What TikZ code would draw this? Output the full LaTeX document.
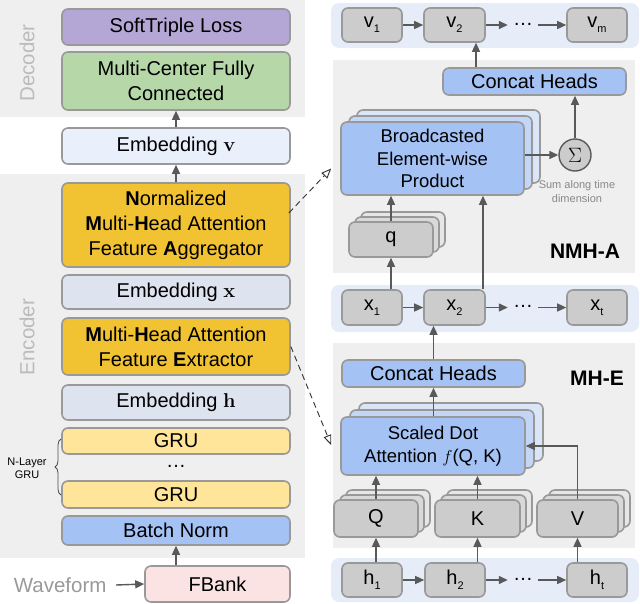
\documentclass[tikz,border=0pt]{standalone}
\usepackage[no-math]{fontspec}
\setmainfont{Liberation Sans}
\newfontfamily\lmrfam{Latin Modern Roman}
\usetikzlibrary{arrows.meta,calc,decorations.pathreplacing}
\definecolor{bggray}{HTML}{EFEFEF}
\definecolor{panelblue}{HTML}{E6ECF8}
\definecolor{bordergray}{HTML}{999999}
\definecolor{arrowgray}{HTML}{595959}
\definecolor{boxgray}{HTML}{CCCCCC}
\definecolor{boxgrayb}{HTML}{D9D9D9}
\definecolor{boxgrayc}{HTML}{E6E6E6}
\definecolor{blueA}{HTML}{A4C2F4}
\definecolor{blueB}{HTML}{C4D6F6}
\definecolor{blueC}{HTML}{DAE5F8}
\definecolor{orangeA}{HTML}{F1C232}
\definecolor{yellowA}{HTML}{FFE599}
\definecolor{purpleA}{HTML}{B4A7D6}
\definecolor{greenA}{HTML}{B6D7A8}
\definecolor{embv}{HTML}{EAF0FB}
\definecolor{embxh}{HTML}{DDE3EF}
\definecolor{pinkA}{HTML}{FBE3E3}
\definecolor{labelgray}{HTML}{BBBBBB}
\definecolor{wavegray}{HTML}{999999}
\definecolor{sumgray}{HTML}{888888}
\newcommand{\mysub}[1]{\raisebox{-5pt}{\fontsize{11}{11}\selectfont #1}}
\newcommand{\bvec}[1]{{\lmrfam\bfseries #1}}
\begin{document}
\begin{tikzpicture}[x=1pt,y=-1pt,
  box/.style={draw=bordergray, line width=1.6pt, rounded corners=6pt, align=center, inner sep=0pt, font=\fontsize{20}{25}\selectfont},
  gbox/.style={box, fill=boxgray},
  sbox/.style={box, font=\fontsize{18.5}{22.5}\selectfont},
  dotsnode/.style={font=\fontsize{20}{20}\selectfont, inner sep=0pt},
  arr/.style={draw=arrowgray, line width=1.4pt, -{Triangle[length=9pt,width=8pt]}},
  dasharr/.style={draw=black!80, line width=0.9pt, dash pattern=on 6pt off 4pt, -{Triangle[open,length=10pt,width=8pt]}},
  sidelabel/.style={rotate=90, text=labelgray, font=\fontsize{20.5}{20.5}\selectfont}
]
\useasboundingbox (0,0) rectangle (640,603);

% ---------- left backgrounds ----------
\fill[bggray] (0,0) rectangle (305,117);
\fill[bggray] (0,174) rectangle (305,558);
\node[sidelabel] (dec) at (27,63) {Decoder};
\node[sidelabel] (enc) at (27,337) {Encoder};

% ---------- left boxes ----------
\node[box, fill=purpleA, minimum width=228pt, minimum height=36pt] (soft) at (176,27) {SoftTriple Loss};
\node[box, fill=greenA, minimum width=228pt, minimum height=58pt] (mcfc) at (176,81) {Multi-Center Fully\\Connected};
\node[box, fill=embv, minimum width=228pt, minimum height=36pt] (embv) at (176,146) {Embedding \bvec{v}};
\node[box, fill=orangeA, minimum width=228pt, minimum height=84pt] (nmha) at (176,225) {\textbf{N}ormalized\\\textbf{M}ulti-\textbf{H}ead Attention\\Feature \textbf{A}ggregator};
\node[box, fill=embxh, minimum width=228pt, minimum height=34pt] (embx) at (176,292) {Embedding \bvec{x}};
\node[box, fill=orangeA, minimum width=228pt, minimum height=57pt] (mhafe) at (176,346.5) {\textbf{M}ulti-\textbf{H}ead Attention\\Feature \textbf{E}xtractor};
\node[box, fill=embxh, minimum width=228pt, minimum height=35pt] (embh) at (176,402.5) {Embedding \bvec{h}};
\node[box, fill=yellowA, minimum width=228pt, minimum height=26pt] (gru1) at (176,441) {GRU};
\node[dotsnode] (grudots) at (176,466) {\ldots};
\node[box, fill=yellowA, minimum width=228pt, minimum height=27pt] (gru2) at (176,494.5) {GRU};
\node[box, fill=blueA, minimum width=228pt, minimum height=29pt] (bn) at (176,530.5) {Batch Norm};
\node[box, fill=pinkA, minimum width=145pt, minimum height=36pt] (fbank) at (217.5,584) {FBank};
\node[text=wavegray, font=\fontsize{20.5}{20.5}\selectfont, anchor=east] (wave) at (110,585) {Waveform};

\draw[decorate, decoration={brace, amplitude=6pt}, draw=black!70, line width=0.8pt] (61,495) -- (61,439);
\node[font=\fontsize{11}{13}\selectfont, align=center] (nlayer) at (27,468) {N-Layer\\GRU};

\draw[arr] (nmha.north) -- (embv.south);
\draw[arr] (embv.north) -- (mcfc.south);
\draw[arr] (bn.south |- fbank.north) -- (bn.south);
\draw[arr] (wave.east) ++(6,0) -- (fbank.west);

% ---------- right backgrounds ----------
\fill[panelblue, rounded corners=8pt] (331,3) rectangle (639,48);
\fill[bggray] (333,60) rectangle (635,273);
\fill[panelblue, rounded corners=8pt] (331,285) rectangle (639,332);
\fill[bggray] (333,343) rectangle (635,548);
\fill[panelblue, rounded corners=8pt] (331,558) rectangle (639,602);

% ---------- v row ----------
\node[gbox, minimum width=60pt, minimum height=34pt] (v1) at (372,25) {v\mysub{1}};
\node[gbox, minimum width=61pt, minimum height=34pt] (v2) at (454.5,25) {v\mysub{2}};
\node[dotsnode] (vdots) at (523,24) {\ldots};
\node[gbox, minimum width=60pt, minimum height=34pt] (vm) at (597,25) {v\mysub{m}};
\draw[arr] (v1.east) -- (v2.west);
\draw[arr] (v2.east) -- ($(vdots.west |- v2.east)+(-5,0)$);
\draw[arr] ($(vdots.east |- vm.west)+(5,0)$) -- (vm.west);

% ---------- NMH-A ----------
\node[box, fill=blueA, minimum width=183pt, minimum height=27pt] (concatA) at (534.5,81.5) {Concat Heads};
\node[sbox, fill=blueC, minimum width=183pt, minimum height=73pt] (bcastc) at (448.5,146.5) {};
\node[sbox, fill=blueB, minimum width=183pt, minimum height=73pt] (bcastb) at (440.5,152.5) {};
\node[sbox, fill=blueA, minimum width=183pt, minimum height=73pt] (bcast) at (432.5,158.5) {Broadcasted\\Element-wise\\Product};
\node[circle, draw=arrowgray, fill=boxgray, line width=1.4pt, minimum size=32pt, inner sep=0pt, font=\fontsize{20}{20}\selectfont] (sigma) at (575,155) {$\Sigma$};
\node[font=\fontsize{11}{14}\selectfont, text=sumgray, align=center] (sumtxt) at (577,192) {Sum along time\\dimension};
\node[box, fill=boxgrayc, minimum width=84pt, minimum height=35pt] (qc) at (403,229.5) {};
\node[box, fill=boxgrayb, minimum width=84pt, minimum height=35pt] (qb) at (397,234.5) {};
\node[gbox, minimum width=84pt, minimum height=35pt] (q) at (391,239.5) {q};
\node[font=\bfseries\fontsize{21}{21}\selectfont] (nmhalbl) at (585,251) {NMH-A};

\coordinate (cv) at (476,0);
\coordinate (cx) at (483,0);
\draw[arr] (concatA.north -| cv) -- (v2.south -| cv);
\draw[arr] (bcast.east |- sigma) -- (sigma.west);
\draw[arr] (sigma.north) -- (sigma.north |- concatA.south);
\draw[arr] (q.north) -- (q.north |- bcast.south);

% ---------- x row ----------
\node[gbox, minimum width=60pt, minimum height=35pt] (x1) at (372,307.5) {x\mysub{1}};
\node[gbox, minimum width=61pt, minimum height=35pt] (x2) at (454.5,307.5) {x\mysub{2}};
\node[dotsnode] (xdots) at (523,306.5) {\ldots};
\node[gbox, minimum width=60pt, minimum height=35pt] (xt) at (597,307.5) {x\mysub{t}};
\draw[arr] (x1.east) -- (x2.west);
\draw[arr] (x2.east) -- ($(xdots.west |- x2.east)+(-5,0)$);
\draw[arr] ($(xdots.east |- xt.west)+(5,0)$) -- (xt.west);
\draw[arr] (q.south |- x1.north) -- (q.south);
\draw[arr] (x2.north -| cx) -- (bcast.south -| cx);

% ---------- MH-E ----------
\node[box, fill=blueA, minimum width=183pt, minimum height=27pt] (concatE) at (433.5,373.5) {Concat Heads};
\node[font=\bfseries\fontsize{21}{21}\selectfont] (mhelbl) at (597,378) {MH-E};
\node[sbox, fill=blueC, minimum width=184pt, minimum height=58pt] (sdotc) at (451,432) {};
\node[sbox, fill=blueB, minimum width=184pt, minimum height=58pt] (sdotb) at (442,439) {};
\node[sbox, fill=blueA, minimum width=184pt, minimum height=58pt] (sdot) at (433,446) {Scaled Dot\\Attention $f$(Q, K)};

\node[box, fill=boxgrayc, minimum width=84pt, minimum height=37pt] (Qc) at (388,508.5) {};
\node[box, fill=boxgrayb, minimum width=84pt, minimum height=37pt] (Qb) at (382,513.5) {};
\node[gbox, minimum width=84pt, minimum height=37pt] (Q) at (376,518.5) {Q};
\node[box, fill=boxgrayc, minimum width=85pt, minimum height=37pt] (Kc) at (489.5,508.5) {};
\node[box, fill=boxgrayb, minimum width=85pt, minimum height=37pt] (Kb) at (483.5,513.5) {};
\node[gbox, minimum width=85pt, minimum height=37pt] (K) at (477.5,518.5) {K};
\node[box, fill=boxgrayc, minimum width=81pt, minimum height=37pt] (Vc) at (589.5,508.5) {};
\node[box, fill=boxgrayb, minimum width=81pt, minimum height=37pt] (Vb) at (583.5,513.5) {};
\node[gbox, minimum width=81pt, minimum height=37pt] (V) at (577.5,518.5) {V};

\draw[arr] (sdot.north -| concatE.south) -- (concatE.south);
\draw[arr] (concatE.north) -- (concatE.north |- x2.south);
\draw[arr] (Q.north) -- (Q.north |- sdot.south);
\draw[arr] (K.north) -- (K.north |- sdot.south);
\draw[arr] (V.north) |- (sdot.east);

% ---------- h row ----------
\node[gbox, minimum width=60pt, minimum height=34pt] (h1) at (372,580) {h\mysub{1}};
\node[gbox, minimum width=60pt, minimum height=34pt] (h2) at (455,580) {h\mysub{2}};
\node[dotsnode] (hdots) at (523,579) {\ldots};
\node[gbox, minimum width=60pt, minimum height=34pt] (ht) at (597,580) {h\mysub{t}};
\draw[arr] (h1.east) -- (h2.west);
\draw[arr] (h2.east) -- ($(hdots.west |- h2.east)+(-5,0)$);
\draw[arr] ($(hdots.east |- ht.west)+(5,0)$) -- (ht.west);
\draw[arr] (Q.south |- h1.north) -- (Q.south);
\draw[arr] (K.south |- h2.north) -- (K.south);
\draw[arr] (V.south |- ht.north) -- (V.south);

% ---------- dashed links ----------
\draw[dasharr] ($(nmha.east)+(-2,-12)$) -- ($(bcast.west)+(-9,10)$);
\draw[dasharr] (mhafe.east) -- ($(sdot.west)+(-9,-1)$);
\end{tikzpicture}
\end{document}
